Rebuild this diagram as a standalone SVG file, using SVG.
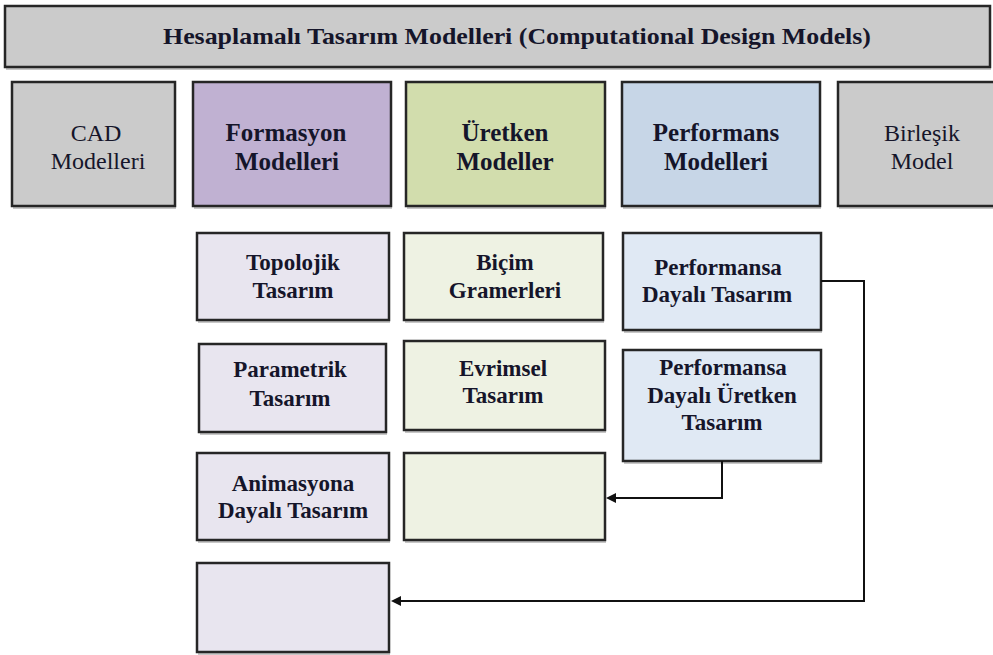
<svg xmlns="http://www.w3.org/2000/svg" width="993" height="655" viewBox="0 0 993 655">
  <style>
    .box { stroke: #262626; stroke-width: 2.5; }
    .sh { fill: #000; opacity: 0.22; }
    .gray { fill: #cbcbcb; }
    .purple { fill: #c0b1d2; }
    .green { fill: #d2ddad; }
    .blue { fill: #c7d6e7; }
    .purple-l { fill: #e8e5ef; }
    .green-l { fill: #eef2e3; }
    .blue-l { fill: #e0e9f4; }
    .t { fill: #15152a; text-anchor: middle; }
    .b { font-weight: bold; }
    .h { font-size: 25px; }
    .r { font-size: 24px; }
    .s { font-size: 23px; }
    .conn { fill: none; stroke: #111; stroke-width: 2; }
    .head { fill: #111; }
  </style>
  <rect width="993" height="655" fill="#ffffff"/>

  <!-- header -->
  <g id="title">
    <rect class="sh" x="6" y="9" width="985" height="61"/>
    <rect class="box gray" x="5" y="6" width="985" height="61"/>
    <text class="t b" font-family="Liberation Serif" x="517" y="44" font-size="24" textLength="708" lengthAdjust="spacingAndGlyphs">Hesaplamalı Tasarım Modelleri (Computational Design Models)</text>
  </g>

  <!-- top row of model families -->
  <g id="cad">
    <rect class="sh" x="13" y="85" width="163" height="124"/>
    <rect class="box gray" x="12" y="82" width="163" height="124"/>
    <text class="t r" font-family="Liberation Serif" x="96" y="141">CAD</text>
    <text class="t r" font-family="Liberation Serif" x="98" y="169">Modelleri</text>
  </g>
  <g id="formasyon">
    <rect class="sh" x="194" y="85" width="198" height="124"/>
    <rect class="box purple" x="193" y="82" width="198" height="124"/>
    <text class="t h b" font-family="Liberation Serif" x="286" y="141">Formasyon</text>
    <text class="t h b" font-family="Liberation Serif" x="287" y="170">Modelleri</text>
  </g>
  <g id="uretken">
    <rect class="sh" x="407" y="85" width="199" height="124"/>
    <rect class="box green" x="406" y="82" width="199" height="124"/>
    <text class="t h b" font-family="Liberation Serif" x="505" y="141">Üretken</text>
    <text class="t h b" font-family="Liberation Serif" x="505" y="170">Modeller</text>
  </g>
  <g id="performans">
    <rect class="sh" x="623" y="85" width="198" height="124"/>
    <rect class="box blue" x="622" y="82" width="198" height="124"/>
    <text class="t h b" font-family="Liberation Serif" x="716" y="141">Performans</text>
    <text class="t h b" font-family="Liberation Serif" x="716" y="170">Modelleri</text>
  </g>
  <g id="birlesik">
    <rect class="sh" x="839" y="85" width="160" height="124"/>
    <rect class="box gray" x="838" y="82" width="160" height="124"/>
    <text class="t r" font-family="Liberation Serif" x="922" y="141">Birleşik</text>
    <text class="t r" font-family="Liberation Serif" x="922" y="169">Model</text>
  </g>

  <!-- formasyon column -->
  <g id="topolojik">
    <rect class="sh" x="198" y="236" width="192" height="87"/>
    <rect class="box purple-l" x="197" y="233" width="192" height="87"/>
    <text class="t s b" font-family="Liberation Serif" x="293" y="270">Topolojik</text>
    <text class="t s b" font-family="Liberation Serif" x="293" y="298">Tasarım</text>
  </g>
  <g id="parametrik">
    <rect class="sh" x="200" y="347" width="187" height="88"/>
    <rect class="box purple-l" x="199" y="344" width="187" height="88"/>
    <text class="t s b" font-family="Liberation Serif" x="290" y="377">Parametrik</text>
    <text class="t s b" font-family="Liberation Serif" x="290" y="406">Tasarım</text>
  </g>
  <g id="animasyon">
    <rect class="sh" x="198" y="456" width="192" height="87"/>
    <rect class="box purple-l" x="197" y="453" width="192" height="87"/>
    <text class="t s b" font-family="Liberation Serif" x="293" y="491">Animasyona</text>
    <text class="t s b" font-family="Liberation Serif" x="293" y="518">Dayalı Tasarım</text>
  </g>
  <g id="formasyon-empty">
    <rect class="sh" x="198" y="566" width="192" height="89"/>
    <rect class="box purple-l" x="197" y="563" width="192" height="89"/>
  </g>

  <!-- uretken column -->
  <g id="bicim">
    <rect class="sh" x="405" y="236" width="199" height="87"/>
    <rect class="box green-l" x="404" y="233" width="199" height="87"/>
    <text class="t s b" font-family="Liberation Serif" x="505" y="270">Biçim</text>
    <text class="t s b" font-family="Liberation Serif" x="505" y="298">Gramerleri</text>
  </g>
  <g id="evrimsel">
    <rect class="sh" x="405" y="344" width="201" height="89"/>
    <rect class="box green-l" x="404" y="341" width="201" height="89"/>
    <text class="t s b" font-family="Liberation Serif" x="503" y="376">Evrimsel</text>
    <text class="t s b" font-family="Liberation Serif" x="503" y="403">Tasarım</text>
  </g>
  <g id="uretken-empty">
    <rect class="sh" x="405" y="456" width="201" height="87"/>
    <rect class="box green-l" x="404" y="453" width="201" height="87"/>
  </g>

  <!-- performans column -->
  <g id="pdt">
    <rect class="sh" x="624" y="236" width="198" height="97"/>
    <rect class="box blue-l" x="623" y="233" width="198" height="97"/>
    <text class="t s b" font-family="Liberation Serif" x="718" y="275">Performansa</text>
    <text class="t s b" font-family="Liberation Serif" x="717" y="302">Dayalı Tasarım</text>
  </g>
  <g id="pdut">
    <rect class="sh" x="624" y="353" width="198" height="111"/>
    <rect class="box blue-l" x="623" y="350" width="198" height="111"/>
    <text class="t s b" font-family="Liberation Serif" x="723" y="375">Performansa</text>
    <text class="t s b" font-family="Liberation Serif" x="722" y="403">Dayalı Üretken</text>
    <text class="t s b" font-family="Liberation Serif" x="722" y="430">Tasarım</text>
  </g>

  <!-- connectors with their arrowheads -->
  <g id="connectors">
    <path class="conn" d="M722,461 V498 H615"/>
    <path class="head" d="M606,498 L616,493 L616,503 Z"/>
    <path class="conn" d="M821,281 H864 V601 H400"/>
    <path class="head" d="M391,601 L401,596 L401,606 Z"/>
  </g>
</svg>
